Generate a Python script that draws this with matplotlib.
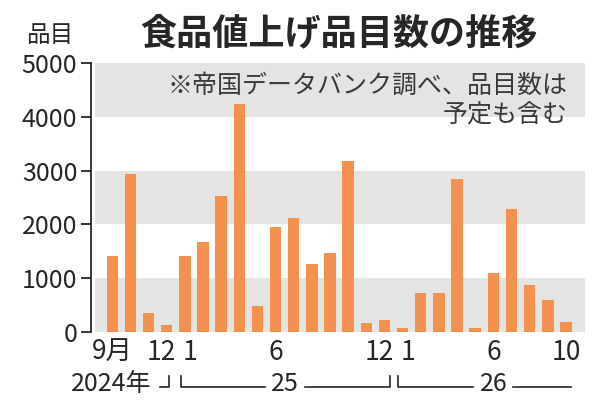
import matplotlib
matplotlib.use('Agg')
import matplotlib.pyplot as plt
import matplotlib.transforms as mtransforms
import numpy as np

plt.rcParams['font.family'] = ['Noto Sans CJK JP', 'DejaVu Sans']

# monthly counts, Sep 2024 .. Oct 2026
months = ['2024-09', '2024-10', '2024-11', '2024-12',
          '2025-01', '2025-02', '2025-03', '2025-04', '2025-05', '2025-06',
          '2025-07', '2025-08', '2025-09', '2025-10', '2025-11', '2025-12',
          '2026-01', '2026-02', '2026-03', '2026-04', '2026-05', '2026-06',
          '2026-07', '2026-08', '2026-09', '2026-10']
items = [1420, 2940, 350, 120,
         1420, 1670, 2530, 4240, 490, 1950, 2110, 1265, 1470, 3180, 160, 220,
         80, 730, 720, 2850, 80, 1100, 2280, 870, 600, 180]

tick_idx = [0, 3, 4, 9, 15, 16, 21, 25]
tick_labels = ['9月', '12', '1', '6', '12', '1', '6', '10']
bands = [(0, 1000), (2000, 3000), (4000, 5000)]
yticks = [0, 1000, 2000, 3000, 4000, 5000]

bar_color = '#f4914f'
band_color = '#e4e4e4'
ink = '#262626'

fig = plt.figure(figsize=(6, 4.17), dpi=100)
ax = fig.add_axes([0.152, 0.204, 0.823, 0.645])

x = np.arange(len(months))
for lo, hi in bands:
    ax.axhspan(lo, hi, xmin=0.008, xmax=1, color=band_color, lw=0, zorder=0)
ax.bar(x, items, width=0.63, color=bar_color, zorder=2)

ax.set_xlim(-1.16, 26.05)
ax.set_ylim(0, 5000)
ax.set_yticks(yticks)
ax.set_yticklabels([str(v) for v in yticks], fontsize=18, color=ink)
ax.tick_params(axis='y', direction='out', length=7, width=1.3, color=ink, pad=3)
ax.set_xticks(tick_idx)
ax.set_xticklabels(tick_labels, fontsize=19, color=ink)
ax.tick_params(axis='x', length=0, pad=5)
for s in ['top', 'right', 'bottom']:
    ax.spines[s].set_visible(False)
ax.spines['left'].set_color(ink)
ax.spines['left'].set_linewidth(1.3)

# nudge the "12" / "1" pairs apart so they sit like "12 1"
for lab, i in zip(ax.get_xticklabels(), tick_idx):
    if lab.get_text() == '12':
        dx = -4 / 72
    elif lab.get_text() == '1':
        dx = 4 / 72
    else:
        continue
    lab.set_transform(lab.get_transform() +
                      mtransforms.ScaledTranslation(dx, 0, fig.dpi_scale_trans))

# title and unit
fig.text(0.565, 0.918, '食品値上げ品目数の推移', fontsize=26, fontweight='bold',
         ha='center', va='center', color=ink)
fig.text(0.083, 0.915, '品目', fontsize=17, ha='center', va='center', color=ink)

# source note
ax.text(0.965, 0.915, '※帝国データバンク調べ、品目数は', transform=ax.transAxes,
        fontsize=18, ha='right', va='center', color='#3a3a3a')
ax.text(0.965, 0.805, '予定も含む', transform=ax.transAxes,
        fontsize=18, ha='right', va='center', color='#3a3a3a')

# year row with brackets
trans = mtransforms.blended_transform_factory(ax.transData, ax.transAxes)
yl = -0.205
yt = -0.165
kw = dict(transform=trans, color=ink, lw=1.2, clip_on=False)
ax.text(2.15, -0.195, '2024年', transform=trans, fontsize=18, ha='right',
        va='center', color=ink)
ax.plot([2.65, 3.1, 3.1], [yl, yl, yt], **kw)
ax.plot([3.8, 3.8, 8.4], [yt, yl, yl], **kw)
ax.text(9.5, -0.195, '25', transform=trans, fontsize=18, ha='center',
        va='center', color=ink)
ax.plot([10.6, 15.3, 15.3], [yl, yl, yt], **kw)
ax.plot([15.75, 15.75, 19.9], [yt, yl, yl], **kw)
ax.text(21.0, -0.195, '26', transform=trans, fontsize=18, ha='center',
        va='center', color=ink)
ax.plot([22.1, 25.3], [yl, yl], **kw)

fig.savefig('out.png', dpi=100, facecolor='white')
